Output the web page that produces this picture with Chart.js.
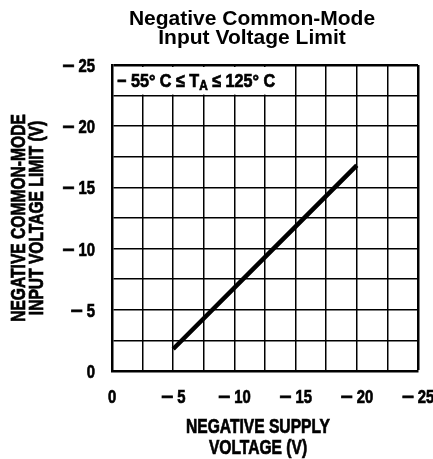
<!DOCTYPE html>
<html>
<head>
<meta charset="utf-8">
<script src="https://cdn.jsdelivr.net/npm/chart.js@4.4.1/dist/chart.umd.min.js"></script>
<style>
  body { margin: 0; background: #fff; }
  canvas { display: block; }
</style>
</head>
<body>
<canvas id="chart" width="433" height="459"></canvas>
<script>
// supply voltage (V) vs negative common-mode limit (V)
const supplyVoltage = [-5, -12.5, -20];
const cmLimit = [-1.8, -9.3, -16.8];

const xTickLabels = ['0', '\u2212 5', '\u2212 10', '\u2212 15', '\u2212 20', '\u2212 25'];
const yTickLabels = ['0', '\u2212 5', '\u2212 10', '\u2212 15', '\u2212 20', '\u2212 25'];

const titleLines = ['Negative Common-Mode', 'Input Voltage Limit'];
const xTitleLines = ['NEGATIVE SUPPLY', 'VOLTAGE (V)'];
const yTitleLines = ['NEGATIVE COMMON-MODE', 'INPUT VOLTAGE LIMIT (V)'];
const tempRange = ['\u2212 55\u00b0 C \u2264 T', 'A', ' \u2264 125\u00b0 C'];

const sans = '"Liberation Sans", Arial, sans-serif';
const squeeze = 0.78; // fake a narrow face, none installed

function gridWidth(ctx) {
  return ctx.tick && ctx.tick.value === -25 ? 2.5 : 1.5;
}

// narrow heavy text: draw with a horizontal squeeze and a thin stroke
function narrowText(ctx, text, x, y, size, align, sq) {
  sq = sq || squeeze;
  ctx.save();
  ctx.font = 'bold ' + size + 'px ' + sans;
  ctx.translate(x, y);
  ctx.scale(sq, 1);
  ctx.textAlign = align || 'left';
  ctx.lineWidth = 0.7;
  ctx.strokeStyle = '#000';
  ctx.fillText(text, 0, 0);
  ctx.strokeText(text, 0, 0);
  const w = ctx.measureText(text).width * sq;
  ctx.restore();
  return w;
}

// tick label: long minus at full width, digits squeezed
function tickText(ctx, label, x, y, align) {
  ctx.font = 'bold 19px ' + sans;
  const neg = label.startsWith('\u2212');
  const digits = neg ? label.slice(2) : label;
  const wMinus = neg ? ctx.measureText('\u2212').width * 1.1 + 4 : 0;
  const wDigits = ctx.measureText(digits).width * squeeze;
  const total = wMinus + wDigits;
  let left = align === 'right' ? x - total : x - total / 2;
  if (neg) narrowText(ctx, '\u2212', left, y, 19, 'left', 1.1);
  narrowText(ctx, digits, left + wMinus, y, 19, 'left');
}

const textPlugin = {
  id: 'texts',
  beforeDatasetsDraw(chart) {
    const { ctx, scales: { x, y } } = chart;
    // merged cell on top row holding the temperature range
    const x0 = x.getPixelForValue(0), x1 = x.getPixelForValue(-15);
    const y0 = y.getPixelForValue(-25), y1 = y.getPixelForValue(-22.5);
    ctx.save();
    ctx.fillStyle = '#fff';
    ctx.fillRect(x0 + 2, y0 + 2, x1 - x0 - 3, y1 - y0 - 3);
    ctx.fillStyle = '#000';
    ctx.textBaseline = 'alphabetic';
    let px = x0 + 5;
    const base = (y0 + y1) / 2 + 6.5;
    px += narrowText(ctx, tempRange[0], px, base, 19, 'left', 0.85);
    px += narrowText(ctx, tempRange[1], px, base + 3, 14, 'left', 0.85);
    narrowText(ctx, tempRange[2], px, base, 19, 'left', 0.85);
    ctx.restore();
  },
  afterDraw(chart) {
    const { ctx, chartArea, scales: { x, y } } = chart;
    ctx.save();
    ctx.fillStyle = '#000';
    ctx.textBaseline = 'alphabetic';

    // tick labels, placed by the scales
    x.ticks.forEach((t) => {
      if (t.value % 5 !== 0) return;
      tickText(ctx, xTickLabels[Math.round(-t.value / 5)], x.getPixelForValue(t.value), chartArea.bottom + 32, 'center');
    });
    y.ticks.forEach((t) => {
      if (t.value % 5 !== 0) return;
      tickText(ctx, yTickLabels[Math.round(-t.value / 5)], chartArea.left - 17, y.getPixelForValue(t.value) + 7, 'right');
    });

    ctx.textAlign = 'center';
    ctx.font = 'bold 21px ' + sans;
    ctx.fillText(titleLines[0], 252, 25);
    ctx.fillText(titleLines[1], 252, 44);

    narrowText(ctx, xTitleLines[0], 258, 433, 20, 'center');
    narrowText(ctx, xTitleLines[1], 258, 454, 20, 'center');

    ctx.translate(0, 218);
    ctx.rotate(-Math.PI / 2);
    narrowText(ctx, yTitleLines[0], 0, 25, 20, 'center');
    narrowText(ctx, yTitleLines[1], 0, 43, 20, 'center');
    ctx.restore();
  }
};

new Chart(document.getElementById('chart'), {
  type: 'scatter',
  data: {
    datasets: [{
      data: supplyVoltage.map((v, i) => ({ x: v, y: cmLimit[i] })),
      showLine: true,
      borderColor: '#000',
      borderWidth: 4.5,
      pointRadius: 0
    }]
  },
  options: {
    responsive: false,
    animation: false,
    layout: { padding: { top: 65, right: 15, bottom: 0, left: 0 } },
    plugins: { legend: { display: false }, tooltip: { enabled: false } },
    scales: {
      x: {
        type: 'linear',
        min: -25,
        max: 0,
        reverse: true,
        afterFit: (s) => { s.height = 88; },
        grid: { color: '#000', lineWidth: gridWidth, drawTicks: false },
        border: { color: '#000', width: 2.5 },
        ticks: { display: false, stepSize: 2.5, autoSkip: false }
      },
      y: {
        type: 'linear',
        min: -25,
        max: 0,
        reverse: true,
        afterFit: (s) => { s.width = 112; },
        grid: { color: '#000', lineWidth: gridWidth, drawTicks: false },
        border: { color: '#000', width: 2.5 },
        ticks: { display: false, stepSize: 2.5, autoSkip: false }
      }
    }
  },
  plugins: [textPlugin]
});
</script>
</body>
</html>
